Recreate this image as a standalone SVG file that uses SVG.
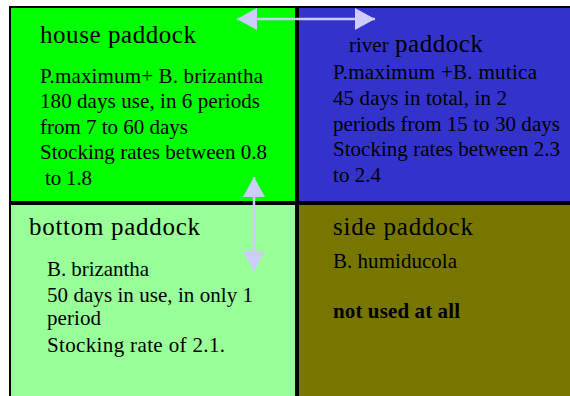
<svg xmlns="http://www.w3.org/2000/svg" width="570" height="396" viewBox="0 0 570 396">
<defs>
<style>
.box{stroke:#000;stroke-width:2}
text{font-family:"Liberation Serif","Times New Roman",serif;fill:#000}
.t{font-size:25px}
.b{font-size:21px}
.bold{font-weight:bold}
.con{stroke:#ccccff;stroke-width:2.5;fill:none}
</style>
<marker id="ah" viewBox="0 0 20 22" refX="20" refY="11" markerWidth="20" markerHeight="22" markerUnits="userSpaceOnUse" orient="auto-start-reverse">
<path d="M0,0 L20,11 L0,22 z" fill="#ccccff"/>
</marker>
</defs>
<rect width="570" height="396" fill="#fff"/>
<g id="house">
<rect class="box" x="10" y="7" width="286" height="195" fill="#00ff00"/>
<text class="t" x="40" y="43" textLength="156" lengthAdjust="spacing">house paddock</text>
<text class="b" x="40" y="83" textLength="223" lengthAdjust="spacing">P.maximum+ B. brizantha</text>
<text class="b" x="40" y="108" textLength="220" lengthAdjust="spacing">180 days use, in 6 periods</text>
<text class="b" x="40" y="134" textLength="148" lengthAdjust="spacing">from 7 to 60 days</text>
<text class="b" x="40" y="159" textLength="227" lengthAdjust="spacing">Stocking rates between 0.8</text>
<text class="b" x="45" y="185" textLength="47" lengthAdjust="spacing">to 1.8</text>
</g>
<g id="river">
<rect class="box" x="298" y="7" width="274" height="195" fill="#3333cc"/>
<text x="349" y="52"><tspan font-size="21px">river</tspan><tspan x="395" font-size="25px" textLength="88" lengthAdjust="spacing">paddock</tspan></text>
<text class="b" x="333" y="79" textLength="204" lengthAdjust="spacing">P.maximum +B. mutica</text>
<text class="b" x="333" y="105" textLength="174" lengthAdjust="spacing">45 days in total, in 2</text>
<text class="b" x="333" y="131" textLength="227" lengthAdjust="spacing">periods from 15 to 30 days</text>
<text class="b" x="333" y="156" textLength="227" lengthAdjust="spacing">Stocking rates between 2.3</text>
<text class="b" x="333" y="182" textLength="48" lengthAdjust="spacing">to 2.4</text>
</g>
<g id="bottom">
<rect class="box" x="10" y="204" width="286" height="196" fill="#99ff99"/>
<text class="t" x="29" y="235" textLength="171" lengthAdjust="spacing">bottom paddock</text>
<text class="b" x="47" y="276" textLength="102" lengthAdjust="spacing">B. brizantha</text>
<text class="b" x="47" y="302" textLength="206" lengthAdjust="spacing">50 days in use, in only 1</text>
<text class="b" x="47" y="325" textLength="54" lengthAdjust="spacing">period</text>
<text class="b" x="47" y="352" textLength="178" lengthAdjust="spacing">Stocking rate of 2.1.</text>
</g>
<g id="side">
<rect class="box" x="298" y="204" width="274" height="196" fill="#777700"/>
<text class="t" x="333" y="235" textLength="140" lengthAdjust="spacing">side paddock</text>
<text class="b" x="333" y="268" textLength="124" lengthAdjust="spacing">B. humiducola</text>
<text class="b bold" x="333" y="318" textLength="127" lengthAdjust="spacing">not used at all</text>
</g>
<g id="connectors">
<path class="con" d="M237,19 L375,19" marker-start="url(#ah)" marker-end="url(#ah)"/>
<path class="con" d="M254,177 L254,271" marker-start="url(#ah)" marker-end="url(#ah)"/>
</g>
</svg>
